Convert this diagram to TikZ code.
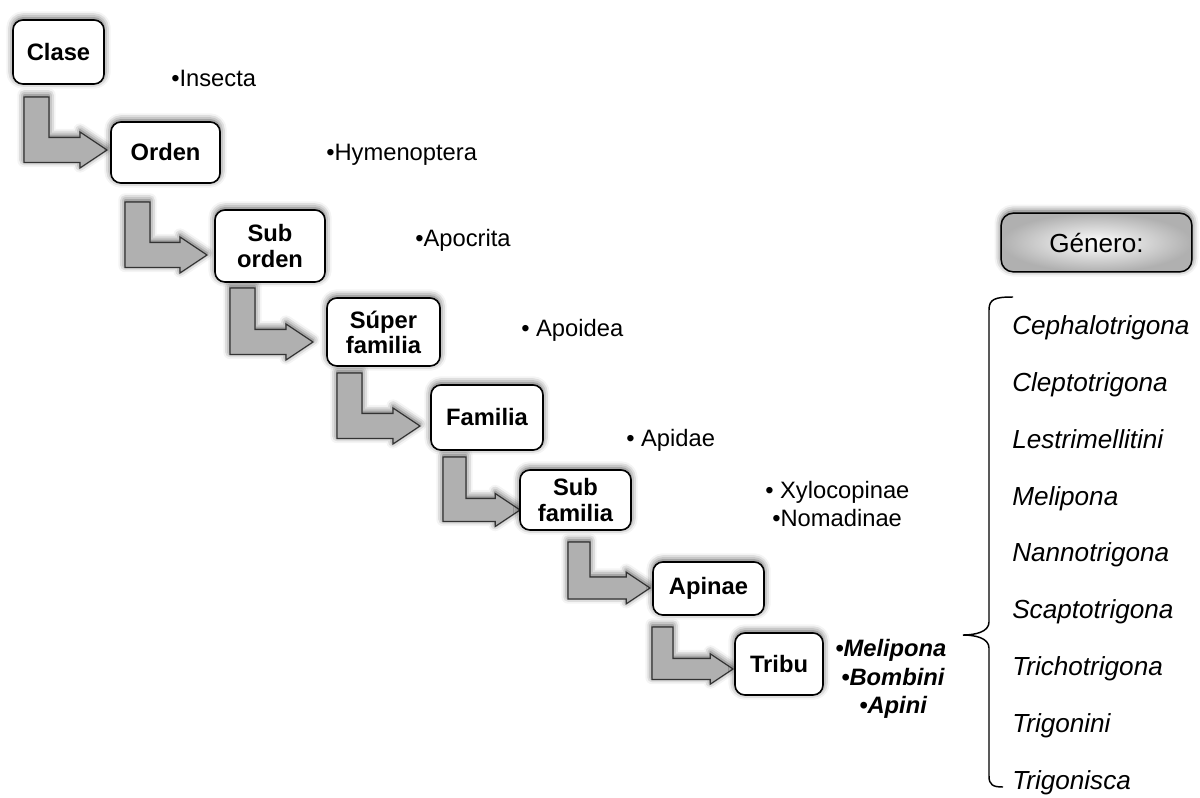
\documentclass[tikz,border=0pt]{standalone}
\usepackage{fontspec}
\setmainfont{Liberation Sans}
\usetikzlibrary{shadows.blur}
\tikzset{shad/.style={blur shadow={shadow xshift=0pt, shadow yshift=1.5pt, shadow blur radius=5pt, shadow opacity=70}}}
\tikzset{box/.style={draw, shad, rounded corners=7.5pt, line width=1.2pt, fill=white, align=center, inner sep=0pt, font=\fontsize{17.8}{18.8}\selectfont\bfseries}}
\tikzset{lbl/.style={anchor=west, inner sep=0pt, text height=12.6pt, text depth=0pt, font=\fontsize{17.8}{21}\selectfont}}
\tikzset{gen/.style={anchor=west, inner sep=0pt, text height=14pt, text depth=0pt, font=\fontsize{19.6}{23}\selectfont\itshape}}
\tikzset{bentarr/.style={shad, fill=gray!62, draw=black!80, line width=0.9pt, line join=miter}}
\tikzset{genbox/.style={draw, shad, rounded corners=9pt, line width=1.1pt, shading=radial, inner color=white, outer color=gray!62, minimum width=143pt, minimum height=44pt, font=\fontsize{19.6}{23}\selectfont}}

\newcommand{\bentarrow}[5]{%
  \draw[bentarr] (#1,#2) -- (#1+#5,#2) -- (#1+#5,#4-#5/2) -- (#3-1.08*#5,#4-#5/2)
    -- (#3-1.08*#5,#4-0.72*#5) -- (#3,#4) -- (#3-1.08*#5,#4+0.72*#5)
    -- (#3-1.08*#5,#4+#5/2) -- (#1,#4+#5/2) -- cycle;}

\begin{document}
\begin{tikzpicture}[x=0.75pt, y=-0.75pt]
        \useasboundingbox (0,0) rectangle (1200,797);

        \bentarrow{24}{97}{107}{150}{25}
        \bentarrow{125}{202}{207}{255}{25}
        \bentarrow{230}{288}{313}{342}{25}
        \bentarrow{337}{373}{420}{426}{25}
        \bentarrow{443}{457}{520}{510}{23}
        \bentarrow{568}{542}{650}{588}{22}
        \bentarrow{652}{627}{733}{669}{21}

        \node[box, minimum width=68.3pt, minimum height=48pt] (clase) at (58.5,52) {Clase};
        \node[box, minimum width=81.8pt, minimum height=45.8pt] (orden) at (165.5,152.5) {Orden};
        \node[box, minimum width=82.5pt, minimum height=54pt] (suborden) at (270,246) {Sub\\orden};
        \node[box, minimum width=84.8pt, minimum height=51pt] (superfam) at (383.5,332) {Súper\\familia};
        \node[box, minimum width=84pt, minimum height=48.8pt] (familia) at (487,417.5) {Familia};
        \node[box, minimum width=83.3pt, minimum height=45pt] (subfam) at (575.5,500) {Sub\\familia};
        \node[box, minimum width=83.3pt, minimum height=39.8pt] (apinae) at (708.5,588.5) {Apinae};
        \node[box, minimum width=66pt, minimum height=46.5pt] (tribu) at (779,664) {Tribu};

        \node[lbl] (insecta) at (171,78) {•Insecta};
        \node[lbl] (hymen) at (326,152) {•Hymenoptera};
        \node[lbl] (apocrita) at (415,238) {•Apocrita};
        \node[lbl] (apoidea) at (521,328) {• Apoidea};
        \node[lbl] (apidae) at (626,438) {• Apidae};
        \node[lbl] (xylo) at (765,490) {• Xylocopinae};
        \node[lbl] (noma) at (772,518) {•Nomadinae};
        \node[lbl, font=\fontsize{17.8}{21}\selectfont\bfseries\itshape] (t1) at (835,648) {•Melipona};
        \node[lbl, font=\fontsize{17.8}{21}\selectfont\bfseries\itshape] (t2) at (841,677) {•Bombini};
        \node[lbl, font=\fontsize{17.8}{21}\selectfont\bfseries\itshape] (t3) at (859,705) {•Apini};

        \node[genbox] (genero) at (1096.5,242.5) {Género:};

        \draw[line width=1.1pt] (1013,297) .. controls (995,297) and (989,299) .. (989,310)
          -- (989,622) .. controls (989,632) and (975,635) .. (963,635)
          .. controls (975,635) and (989,638) .. (989,648)
          -- (989,776) .. controls (989,785) and (993,787) .. (1003,787);

        \foreach \g [count=\i] in {Cephalotrigona, Cleptotrigona, Lestrimellitini, Melipona, Nannotrigona, Scaptotrigona, Trichotrigona, Trigonini, Trigonisca}
          \node[gen] (g\i) at (1012,325+56.9*\i-56.9) {\g};
    \end{tikzpicture}
\end{document}
